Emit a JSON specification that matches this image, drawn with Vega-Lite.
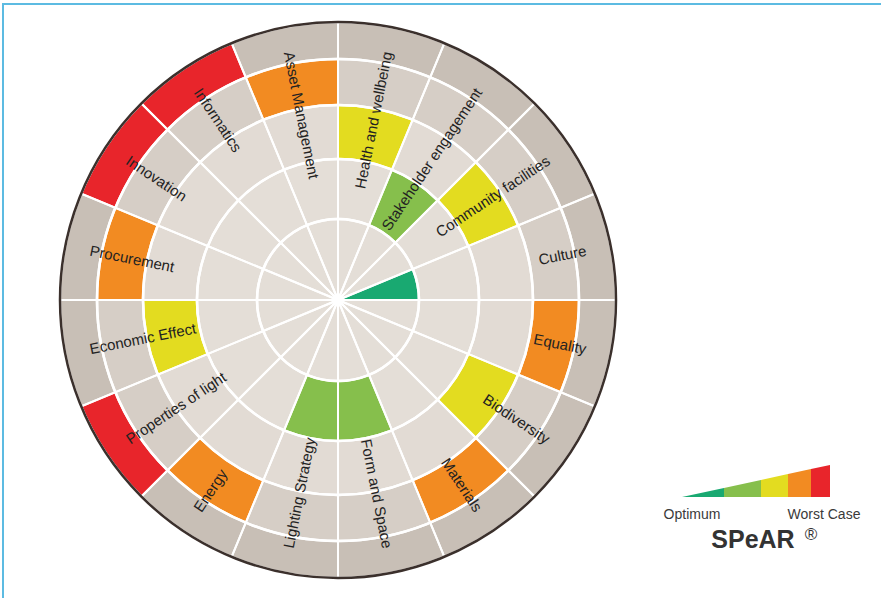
{
  "$schema": "https://vega.github.io/schema/vega-lite/v6.json",
  "padding": {"left": 2, "top": 3, "right": 0, "bottom": 0},
  "background": "white",
  "spacing": 0,
  "bounds": "flush",
  "config": {"view": {"stroke": null}, "font": "Liberation Sans"},
  "datasets": {
    "criteria": [
      {"criterion": "Health and wellbeing", "score": 3},
      {"criterion": "Stakeholder engagement", "score": 2},
      {"criterion": "Community facilities", "score": 3},
      {"criterion": "Culture", "score": 1},
      {"criterion": "Equality", "score": 4},
      {"criterion": "Biodiversity", "score": 3},
      {"criterion": "Materials", "score": 4},
      {"criterion": "Form and Space", "score": 2},
      {"criterion": "Lighting Strategy", "score": 2},
      {"criterion": "Energy", "score": 4},
      {"criterion": "Properties of light", "score": 5},
      {"criterion": "Economic Effect", "score": 3},
      {"criterion": "Procurement", "score": 4},
      {"criterion": "Innovation", "score": 5},
      {"criterion": "Informatics", "score": 5},
      {"criterion": "Asset Management", "score": 4}
    ],
    "rings": [
      {"ring": 1, "inner": 0},
      {"ring": 2, "inner": 1},
      {"ring": 3, "inner": 2},
      {"ring": 4, "inner": 3},
      {"ring": 5, "inner": 4}
    ],
    "legendScale": [
      {"grade": 1, "pos": 0}, {"grade": 1, "pos": 42},
      {"grade": 2, "pos": 42}, {"grade": 2, "pos": 79},
      {"grade": 3, "pos": 79}, {"grade": 3, "pos": 106},
      {"grade": 4, "pos": 106}, {"grade": 4, "pos": 129},
      {"grade": 5, "pos": 129}, {"grade": 5, "pos": 148}
    ]
  },
  "vconcat": [
    {
      "width": 879, "height": 2,
      "view": {"fill": "#5cbbe2", "stroke": null},
      "data": {"values": []},
      "mark": {"type": "rule"},
      "encoding": {}
    },
    {
      "spacing": 0,
      "bounds": "flush",
      "hconcat": [
        {
          "width": 2, "height": 593,
          "view": {"fill": "#5cbbe2", "stroke": null},
          "data": {"values": []},
          "mark": {"type": "rule"},
          "encoding": {}
        },
        {
          "width": 668, "height": 590,
          "layer": [
            {
              "data": {"name": "rings"},
              "mark": {"type": "arc", "theta": 0, "theta2": 6.2832},
              "encoding": {
                "radius": {"field": "ring", "type": "quantitative", "scale": {"type": "linear", "zero": false, "nice": false, "domain": [0, 1, 2, 3, 4, 5], "range": [0, 81, 141, 195, 241, 278]}},
                "radius2": {"field": "inner"},
                "fill": {"field": "ring", "type": "ordinal", "scale": {"domain": [1, 2, 3, 4, 5], "range": ["#e4ded7", "#e4ded7", "#e2dbd4", "#d6cec6", "#c8bfb6"]}, "legend": null}
              }
            },
            {
              "data": {"name": "criteria"},
              "transform": [{"lookup": "score", "from": {"data": {"name": "rings"}, "key": "ring", "fields": ["inner"]}}],
              "mark": {"type": "arc"},
              "encoding": {
                "theta": {"field": "criterion", "type": "nominal", "sort": null, "scale": {"type": "band", "paddingInner": 0, "paddingOuter": 0, "domain": ["Health and wellbeing", "Stakeholder engagement", "Community facilities", "Culture", "Equality", "Biodiversity", "Materials", "Form and Space", "Lighting Strategy", "Energy", "Properties of light", "Economic Effect", "Procurement", "Innovation", "Informatics", "Asset Management"]}},
                "radius": {"field": "score", "type": "quantitative"},
                "radius2": {"field": "inner"},
                "color": {"field": "score", "type": "ordinal", "scale": {"domain": [1, 2, 3, 4, 5], "range": ["#19a971", "#86bf4c", "#e3dc20", "#f28b22", "#e8252b"]}, "legend": null}
              }
            },
            {
              "data": {"name": "rings"},
              "mark": {"type": "arc", "theta": 0, "theta2": 6.2832, "filled": false, "stroke": "#ffffff", "strokeWidth": 2.5},
              "encoding": {
                "radius": {"field": "ring", "type": "quantitative"},
                "radius2": {"field": "inner"}
              }
            },
            {
              "data": {"name": "criteria"},
              "mark": {"type": "arc", "filled": false, "stroke": "#ffffff", "strokeWidth": 2},
              "encoding": {
                "theta": {"field": "criterion", "type": "nominal", "sort": null},
                "radius": {"datum": 5, "type": "quantitative"},
                "radius2": {"datum": 0}
              }
            },
            {
              "data": {"name": "rings"},
              "transform": [{"filter": "datum.ring == 5"}],
              "mark": {"type": "arc", "theta": 0, "theta2": 6.2832, "filled": false, "stroke": "#3b302c", "strokeWidth": 2.5},
              "encoding": {
                "radius": {"field": "ring", "type": "quantitative"}
              }
            },
            {
              "data": {"name": "criteria"},
              "transform": [{"filter": {"field": "criterion", "oneOf": ["Health and wellbeing", "Stakeholder engagement", "Community facilities", "Culture", "Equality", "Biodiversity", "Materials", "Form and Space"]}}],
              "mark": {"type": "text", "align": "right", "baseline": "middle", "radiusOffset": 12, "fontSize": 15, "font": "Liberation Sans", "color": "#222222"},
              "encoding": {
                "theta": {"field": "criterion", "type": "nominal", "sort": null},
                "radius": {"datum": 4, "type": "quantitative"},
                "text": {"field": "criterion"},
                "angle": {"field": "criterion", "type": "nominal", "scale": {"type": "ordinal", "domain": ["Health and wellbeing", "Stakeholder engagement", "Community facilities", "Culture", "Equality", "Biodiversity", "Materials", "Form and Space", "Lighting Strategy", "Energy", "Properties of light", "Economic Effect", "Procurement", "Innovation", "Informatics", "Asset Management"], "range": [-78.75, -56.25, -33.75, -11.25, 11.25, 33.75, 56.25, 78.75, -78.75, -56.25, -33.75, -11.25, 11.25, 33.75, 56.25, 78.75]}, "legend": null}
              }
            },
            {
              "data": {"name": "criteria"},
              "transform": [{"filter": {"field": "criterion", "oneOf": ["Lighting Strategy", "Energy", "Properties of light", "Economic Effect", "Procurement", "Innovation", "Informatics", "Asset Management"]}}],
              "mark": {"type": "text", "align": "left", "baseline": "middle", "radiusOffset": 12, "fontSize": 15, "font": "Liberation Sans", "color": "#222222"},
              "encoding": {
                "theta": {"field": "criterion", "type": "nominal", "sort": null},
                "radius": {"datum": 4, "type": "quantitative"},
                "text": {"field": "criterion"},
                "angle": {"field": "criterion", "type": "nominal", "scale": {"type": "ordinal", "domain": ["Health and wellbeing", "Stakeholder engagement", "Community facilities", "Culture", "Equality", "Biodiversity", "Materials", "Form and Space", "Lighting Strategy", "Energy", "Properties of light", "Economic Effect", "Procurement", "Innovation", "Informatics", "Asset Management"], "range": [-78.75, -56.25, -33.75, -11.25, 11.25, 33.75, 56.25, 78.75, -78.75, -56.25, -33.75, -11.25, 11.25, 33.75, 56.25, 78.75]}, "legend": null}
              }
            }
          ]
        },
        {
          "width": 209, "height": 593,
          "layer": [
            {
              "data": {"name": "legendScale"},
              "mark": {"type": "area", "interpolate": "linear"},
              "encoding": {
                "x": {"field": "pos", "type": "quantitative", "scale": {"domain": [0, 148], "range": [10, 158], "nice": false, "zero": false}, "axis": null},
                "y": {"field": "pos", "type": "quantitative", "scale": {"domain": [0, 148], "range": [492, 460], "nice": false, "zero": false}, "axis": null},
                "y2": {"datum": 0},
                "color": {"field": "grade", "type": "ordinal", "scale": {"domain": [1, 2, 3, 4, 5], "range": ["#19a971", "#86bf4c", "#e3dc20", "#f28b22", "#e8252b"]}, "legend": null}
              }
            },
            {
              "data": {"values": [{}]},
              "mark": {"type": "text", "align": "center", "baseline": "middle", "dy": 18, "fontSize": 14, "color": "#3a3a3a", "font": "Liberation Sans"},
              "encoding": {"x": {"datum": 10, "type": "quantitative"}, "y": {"datum": 0, "type": "quantitative"}, "text": {"value": "Optimum"}}
            },
            {
              "data": {"values": [{}]},
              "mark": {"type": "text", "align": "center", "baseline": "middle", "dy": 18, "fontSize": 14, "color": "#3a3a3a", "font": "Liberation Sans"},
              "encoding": {"x": {"datum": 142, "type": "quantitative"}, "y": {"datum": 0, "type": "quantitative"}, "text": {"value": "Worst Case"}}
            },
            {
              "data": {"values": [{}]},
              "mark": {"type": "text", "align": "center", "baseline": "alphabetic", "dy": 51, "fontSize": 25, "fontWeight": "bold", "color": "#333333", "font": "Liberation Sans"},
              "encoding": {"x": {"datum": 71, "type": "quantitative"}, "y": {"datum": 0, "type": "quantitative"}, "text": {"value": "SPeAR"}}
            },
            {
              "data": {"values": [{}]},
              "mark": {"type": "text", "align": "center", "baseline": "middle", "dy": 38, "fontSize": 17, "color": "#333333", "font": "Liberation Sans"},
              "encoding": {"x": {"datum": 129, "type": "quantitative"}, "y": {"datum": 0, "type": "quantitative"}, "text": {"value": "®"}}
            }
          ]
        }
      ]
    }
  ]
}
